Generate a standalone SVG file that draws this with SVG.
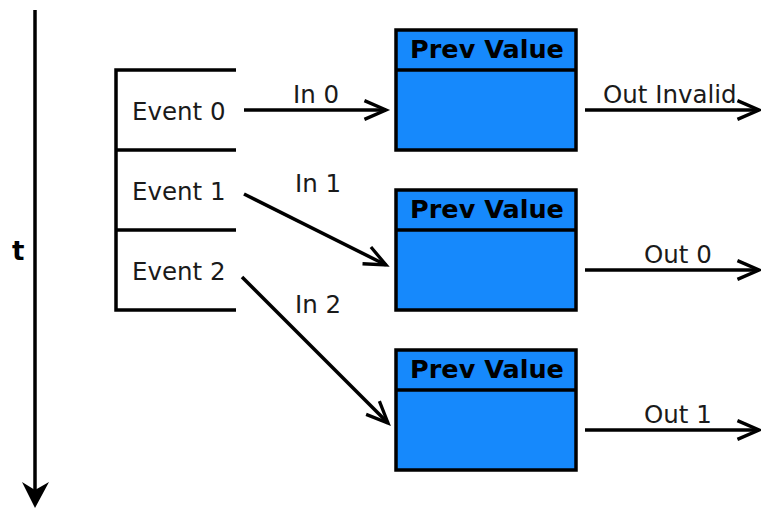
<svg xmlns="http://www.w3.org/2000/svg" width="761" height="509" viewBox="0 0 761 509">
<style>
.ln{stroke:#000;stroke-width:3.5;fill:none}
.box{fill:#1689fc;stroke:#000;stroke-width:3.5}
.lbl{font-family:"DejaVu Sans",sans-serif;font-size:24.5px;fill:#1a1a1a}
.hdr{font-family:"DejaVu Sans",sans-serif;font-size:25.5px;font-weight:bold;fill:#000}
</style>
<defs>
<marker id="open" markerUnits="userSpaceOnUse" markerWidth="30" markerHeight="30" viewBox="-28 -14 32 28" refX="0" refY="0" orient="auto" overflow="visible">
<path d="M-23,-10 L0,0 L-23,10" fill="none" stroke="#000" stroke-width="3.5"/>
</marker>
</defs>
<g id="time-axis">
<line x1="35" y1="10" x2="35" y2="492" class="ln"/>
<path d="M35,508 L22,482 L35,490 L49,482 Z" fill="#000"/>
<text x="12" y="260" font-family="DejaVu Sans, sans-serif" font-size="26" font-weight="bold">t</text>
</g>
<g id="events">
<path d="M236,70 H116 V310 H236 M116,150 H236 M116,230 H236" class="ln"/>
<text x="132" y="120" class="lbl">Event 0</text>
<text x="132" y="200" class="lbl">Event 1</text>
<text x="132" y="280" class="lbl">Event 2</text>
</g>
<g id="node-prev0">
<rect x="396" y="30" width="180" height="120" class="box"/>
<line x1="396" y1="70" x2="576" y2="70" class="ln"/>
<text x="487" y="58" text-anchor="middle" class="hdr">Prev Value</text>
</g>
<g id="node-prev1">
<rect x="396" y="190" width="180" height="120" class="box"/>
<line x1="396" y1="230" x2="576" y2="230" class="ln"/>
<text x="487" y="218" text-anchor="middle" class="hdr">Prev Value</text>
</g>
<g id="node-prev2">
<rect x="396" y="350" width="180" height="120" class="box"/>
<line x1="396" y1="390" x2="576" y2="390" class="ln"/>
<text x="487" y="378" text-anchor="middle" class="hdr">Prev Value</text>
</g>
<g id="connectors">
<line x1="244" y1="110" x2="386" y2="110" class="ln" marker-end="url(#open)"/>
<line x1="244" y1="194" x2="386" y2="265" class="ln" marker-end="url(#open)"/>
<line x1="242" y1="277" x2="388" y2="423" class="ln" marker-end="url(#open)"/>
<line x1="585" y1="110" x2="759" y2="110" class="ln" marker-end="url(#open)"/>
<line x1="585" y1="270" x2="759" y2="270" class="ln" marker-end="url(#open)"/>
<line x1="585" y1="430" x2="759" y2="430" class="ln" marker-end="url(#open)"/>
<text x="293" y="103" class="lbl">In 0</text>
<text x="295" y="192" class="lbl">In 1</text>
<text x="295" y="313" class="lbl">In 2</text>
<text x="603" y="103" class="lbl">Out Invalid</text>
<text x="644" y="263" class="lbl">Out 0</text>
<text x="644" y="423" class="lbl">Out 1</text>
</g>
</svg>
